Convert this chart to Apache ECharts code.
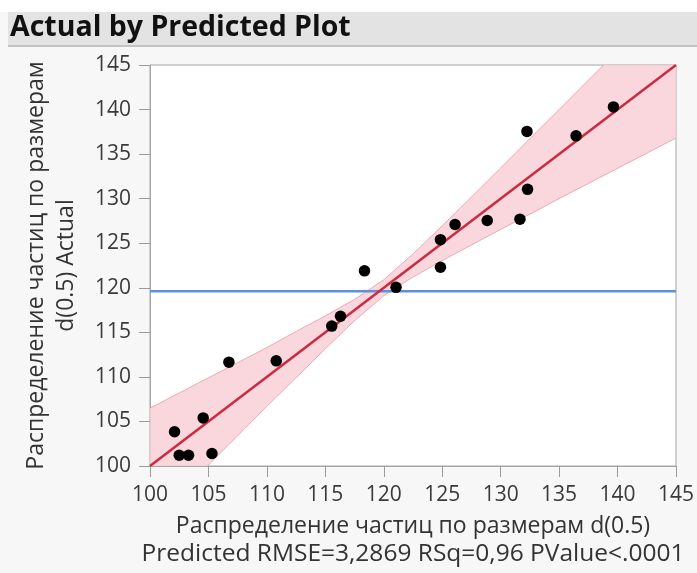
<!DOCTYPE html>
<html>
<head>
<meta charset="utf-8">
<script src="https://cdn.jsdelivr.net/npm/echarts@6/dist/echarts.min.js"></script>
<style>
html,body{margin:0;padding:0;background:#f7f7f7;}
#chart{width:697px;height:573px;}
</style>
</head>
<body>
<div id="chart"></div>
<script>
// Points: predicted (x) vs actual (y)
var predicted = [102.1, 102.5, 103.3, 104.55, 105.3, 106.75, 110.8, 115.55, 116.3, 118.35, 121.05, 124.85, 124.85, 126.1, 128.85, 131.65, 132.25, 132.3, 136.45, 139.65];
var actual    = [103.85, 101.2, 101.2, 105.4, 101.4, 111.65, 111.8, 115.7, 116.8, 121.9, 120.05, 125.4, 122.3, 127.1, 127.55, 127.7, 137.55, 131.05, 137.05, 140.3];

// Confidence band
var bandX     = [100, 102.5, 105, 107.5, 110, 112.5, 115, 117.5, 120, 122.5, 125, 127.5, 130, 132.5, 135, 137.5, 140, 142.5, 145];
var bandUpper = [106.5, 108.2, 109.9, 111.6, 113.3, 115.1, 116.85, 118.7, 120.9, 123.8, 126.95, 130.2, 133.45, 136.75, 140.0, 143.3, 146.6, 149.9, 153.2];
var bandLower = [93.5, 96.8, 100.1, 103.4, 106.7, 109.9, 113.15, 116.3, 119.1, 121.2, 123.05, 124.8, 126.55, 128.25, 130.0, 131.7, 133.4, 135.1, 136.8];

// Fit line and mean line
var fitX = [100, 145];
var fitY = [100, 145];
var meanY = 119.6;

// Axis
var axisMin = 100, axisMax = 145, axisStep = 5;

var titleText = 'Actual by Predicted Plot';
var xName1 = 'Распределение частиц по размерам d(0.5)';
var xName2 = 'Predicted RMSE=3,2869 RSq=0,96 PValue<.0001';
var yName1 = 'Распределение частиц по размерам';
var yName2 = 'd(0.5) Actual';

var chart = echarts.init(document.getElementById('chart'));
var FONT = '"Open Sans", "Noto Sans", sans-serif';

var fitData = fitX.map(function (x, i) { return [x, fitY[i]]; });
var meanData = [[axisMin, meanY], [axisMax, meanY]];
var pts = predicted.map(function (x, i) { return [x, actual[i]]; });

function renderBand(params, api) {
  var upper = bandX.map(function (x, i) { return api.coord([x, bandUpper[i]]); });
  var lower = bandX.map(function (x, i) { return api.coord([x, bandLower[i]]); });
  var poly = upper.concat(lower.slice().reverse());
  var edge = { stroke: 'rgba(214,120,135,0.55)', lineWidth: 1, fill: null };
  return {
    type: 'group',
    children: [
      { type: 'polygon', shape: { points: poly }, style: { fill: 'rgba(249,208,215,0.85)', stroke: null } },
      { type: 'polyline', shape: { points: upper }, style: edge },
      { type: 'polyline', shape: { points: lower }, style: edge }
    ]
  };
}

chart.setOption({
  backgroundColor: '#f7f7f7',
  animation: false,
  graphic: [
    { type: 'rect', shape: { x: 0, y: 0, width: 697, height: 12 }, style: { fill: '#ffffff' }, z: -10 },
    { type: 'rect', shape: { x: 8, y: 12, width: 689, height: 34 }, style: { fill: '#e3e3e3' }, z: -9 },
    { type: 'rect', shape: { x: 8, y: 45, width: 689, height: 2 }, style: { fill: '#c4c4c4' }, z: -9 },
    { type: 'text', x: 10, y: 28, style: { text: titleText, font: 'bold 28.5px ' + FONT, fill: '#111111', verticalAlign: 'middle' } }
  ],
  grid: {
    left: 150, right: 15, top: 65, bottom: 107,
    show: true, backgroundColor: '#ffffff', borderColor: '#a6a6a6', borderWidth: 1
  },
  xAxis: {
    type: 'value', min: axisMin, max: axisMax, interval: axisStep,
    splitLine: { show: false },
    axisLine: { show: true, lineStyle: { color: '#a6a6a6' } },
    axisTick: { show: true, length: 11, lineStyle: { color: '#9a9a9a' } },
    axisLabel: { fontSize: 21, color: '#3a3a3a', fontFamily: FONT, margin: 19 },
    name: '{a|' + xName1 + '}\n{b|' + xName2 + '}',
    nameLocation: 'middle', nameGap: 46,
    nameTextStyle: {
      color: '#333333', fontFamily: FONT, lineHeight: 28,
      rich: {
        a: { fontSize: 23, color: '#333333', fontFamily: FONT, lineHeight: 28 },
        b: { fontSize: 24.5, color: '#333333', fontFamily: FONT, lineHeight: 28 }
      }
    }
  },
  yAxis: {
    type: 'value', min: axisMin, max: axisMax, interval: axisStep,
    splitLine: { show: false },
    axisLine: { show: true, lineStyle: { color: '#a6a6a6' } },
    axisTick: { show: true, length: 11, lineStyle: { color: '#9a9a9a' } },
    axisLabel: { fontSize: 21, color: '#3a3a3a', fontFamily: FONT, margin: 19 },
    name: yName1 + '\n' + yName2,
    nameLocation: 'middle', nameGap: 69,
    nameTextStyle: { fontSize: 23, color: '#333333', fontFamily: FONT, lineHeight: 30 }
  },
  series: [
    {
      type: 'custom', renderItem: renderBand, data: [0], clip: true, z: 1, silent: true
    },
    {
      type: 'line', data: meanData, showSymbol: false, symbol: 'none',
      lineStyle: { color: '#5f8fdf', width: 2.5 }, z: 2
    },
    {
      type: 'line', data: fitData, showSymbol: false, symbol: 'none',
      lineStyle: { color: '#cc2a40', width: 2.5 }, z: 3
    },
    {
      type: 'scatter', data: pts, symbol: 'circle', symbolSize: 11.5,
      itemStyle: { color: '#000000', opacity: 1 }, z: 4
    }
  ]
});
</script>
</body>
</html>
